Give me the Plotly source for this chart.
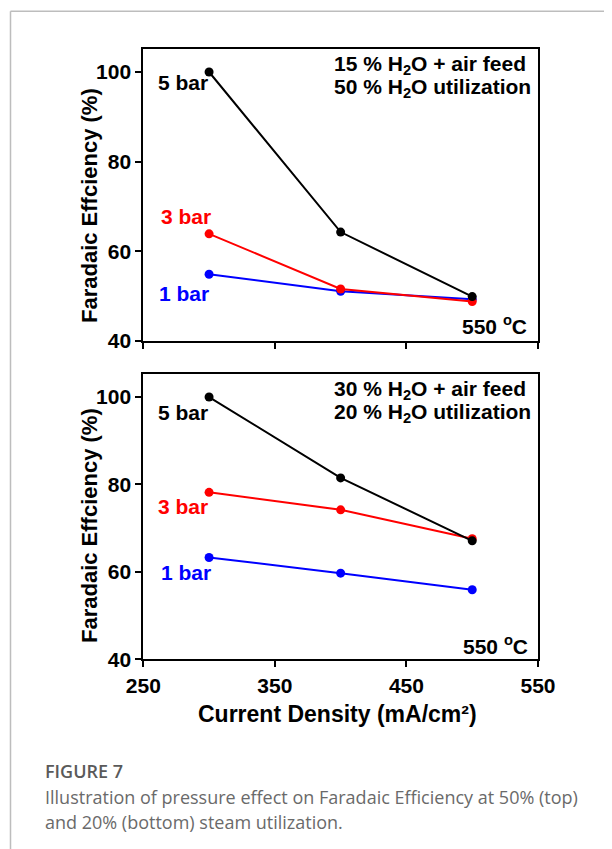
import plotly.graph_objects as go

# ---- data ----
current_density = [300, 400, 500]
top_5bar = [100.0, 64.3, 49.9]
top_3bar = [63.9, 51.6, 48.8]
top_1bar = [54.9, 51.1, 49.3]
bot_5bar = [100.0, 81.5, 67.1]
bot_3bar = [78.2, 74.2, 67.6]
bot_1bar = [63.3, 59.7, 55.9]
x_ticks = [250, 350, 450, 550]
y_ticks = [40, 60, 80, 100]

W, H = 612, 849
OFF = 8  # default page body margin
def px(x): return (x - OFF) / W
def py(y): return 1 - (y - OFF) / H

BLACK, RED, BLUE = "#000000", "#ff0000", "#0000ff"
FONT = "Liberation Sans, Arial, sans-serif"

fig = go.Figure()

def add_series(y, color, xa, ya):
    fig.add_trace(go.Scatter(x=current_density, y=y, mode="lines+markers",
                             line=dict(color=color, width=2),
                             marker=dict(color=color, size=9),
                             xaxis=xa, yaxis=ya, showlegend=False,
                             cliponaxis=False))

add_series(top_1bar, BLUE, "x", "y")
add_series(top_3bar, RED, "x", "y")
add_series(top_5bar, BLACK, "x", "y")
add_series(bot_1bar, BLUE, "x2", "y2")
add_series(bot_3bar, RED, "x2", "y2")
add_series(bot_5bar, BLACK, "x2", "y2")

axis_common = dict(showline=True, linecolor="black", linewidth=2, mirror=True,
                   ticks="outside", ticklen=6, tickwidth=2, tickcolor="black",
                   showgrid=False, zeroline=False, automargin=False,
                   tickfont=dict(family=FONT, size=21, color="black", weight="bold"))

xdom = [px(143.3), px(538)]
fig.update_layout(
    template="none",
    width=W, height=H, autosize=False,
    margin=dict(l=0, r=0, t=0, b=0, pad=0, autoexpand=False),
    paper_bgcolor="white", plot_bgcolor="white",
    xaxis=dict(domain=xdom, range=[250, 550], tickvals=x_ticks,
               showticklabels=False, anchor="y", **axis_common),
    yaxis=dict(domain=[py(341), py(48.7)], range=[40, 105.2], tickvals=y_ticks,
               anchor="x", **axis_common),
    xaxis2=dict(domain=xdom, range=[250, 550], tickvals=x_ticks,
                anchor="y2", **axis_common),
    yaxis2=dict(domain=[py(659.3), py(374.3)], range=[40, 105.2], tickvals=y_ticks,
                anchor="x2", **axis_common),
)

ann = []
def text(t, x, y, color="black", size=21, xanchor="left", angle=0,
         family=FONT, weight="bold", yanchor="middle"):
    ann.append(dict(text=t, x=px(x), y=py(y), xref="paper", yref="paper",
                    xanchor=xanchor, yanchor=yanchor, showarrow=False,
                    textangle=angle,
                    font=dict(family=family, size=size, color=color, weight=weight)))

# top panel
text("15 % H<sub>2</sub>O + air feed", 528, 65, xanchor="right")
text("50 % H<sub>2</sub>O utilization", 533, 88, xanchor="right")
text("5 bar", 156, 83)
text("3 bar", 159, 217, color=RED)
text("1 bar", 157, 294, color=BLUE)
text("550 <sup>o</sup>C", 529, 325, xanchor="right")
# bottom panel
text("30 % H<sub>2</sub>O + air feed", 528, 390, xanchor="right")
text("20 % H<sub>2</sub>O utilization", 533, 413, xanchor="right")
text("5 bar", 156, 412)
text("3 bar", 156, 507, color=RED)
text("1 bar", 159, 572, color=BLUE)
text("550 <sup>o</sup>C", 530, 645, xanchor="right")
# axis titles
text("Faradaic Effciency (%)", 89, 206, size=22, xanchor="center", angle=-90)
text("Faradaic Effciency (%)", 89, 526, size=22, xanchor="center", angle=-90)
text("Current Density (mA/cm²)", 337, 714, size=23, xanchor="center")
# caption
CAP = "Open Sans, sans-serif"
text("FIGURE 7", 43, 771, color="#5a5a5a", size=18, family=CAP, weight=600)
text("Illustration of pressure effect on Faradaic Efficiency at 50% (top)", 43, 797,
     color="#6a6a6a", size=18, family=CAP, weight="normal")
text("and 20% (bottom) steam utilization.", 43, 822,
     color="#6a6a6a", size=18, family=CAP, weight="normal")

fig.update_layout(annotations=ann)

# outer light frame
fig.add_shape(type="line", xref="paper", yref="paper", x0=px(10.5), x1=px(10.5),
              y0=py(11.3), y1=0, line=dict(color="#bdbdbd", width=1.5))
fig.add_shape(type="line", xref="paper", yref="paper", x0=px(10.5), x1=1,
              y0=py(11.3), y1=py(11.3), line=dict(color="#bdbdbd", width=1.5))

fig.write_html("out.html")
